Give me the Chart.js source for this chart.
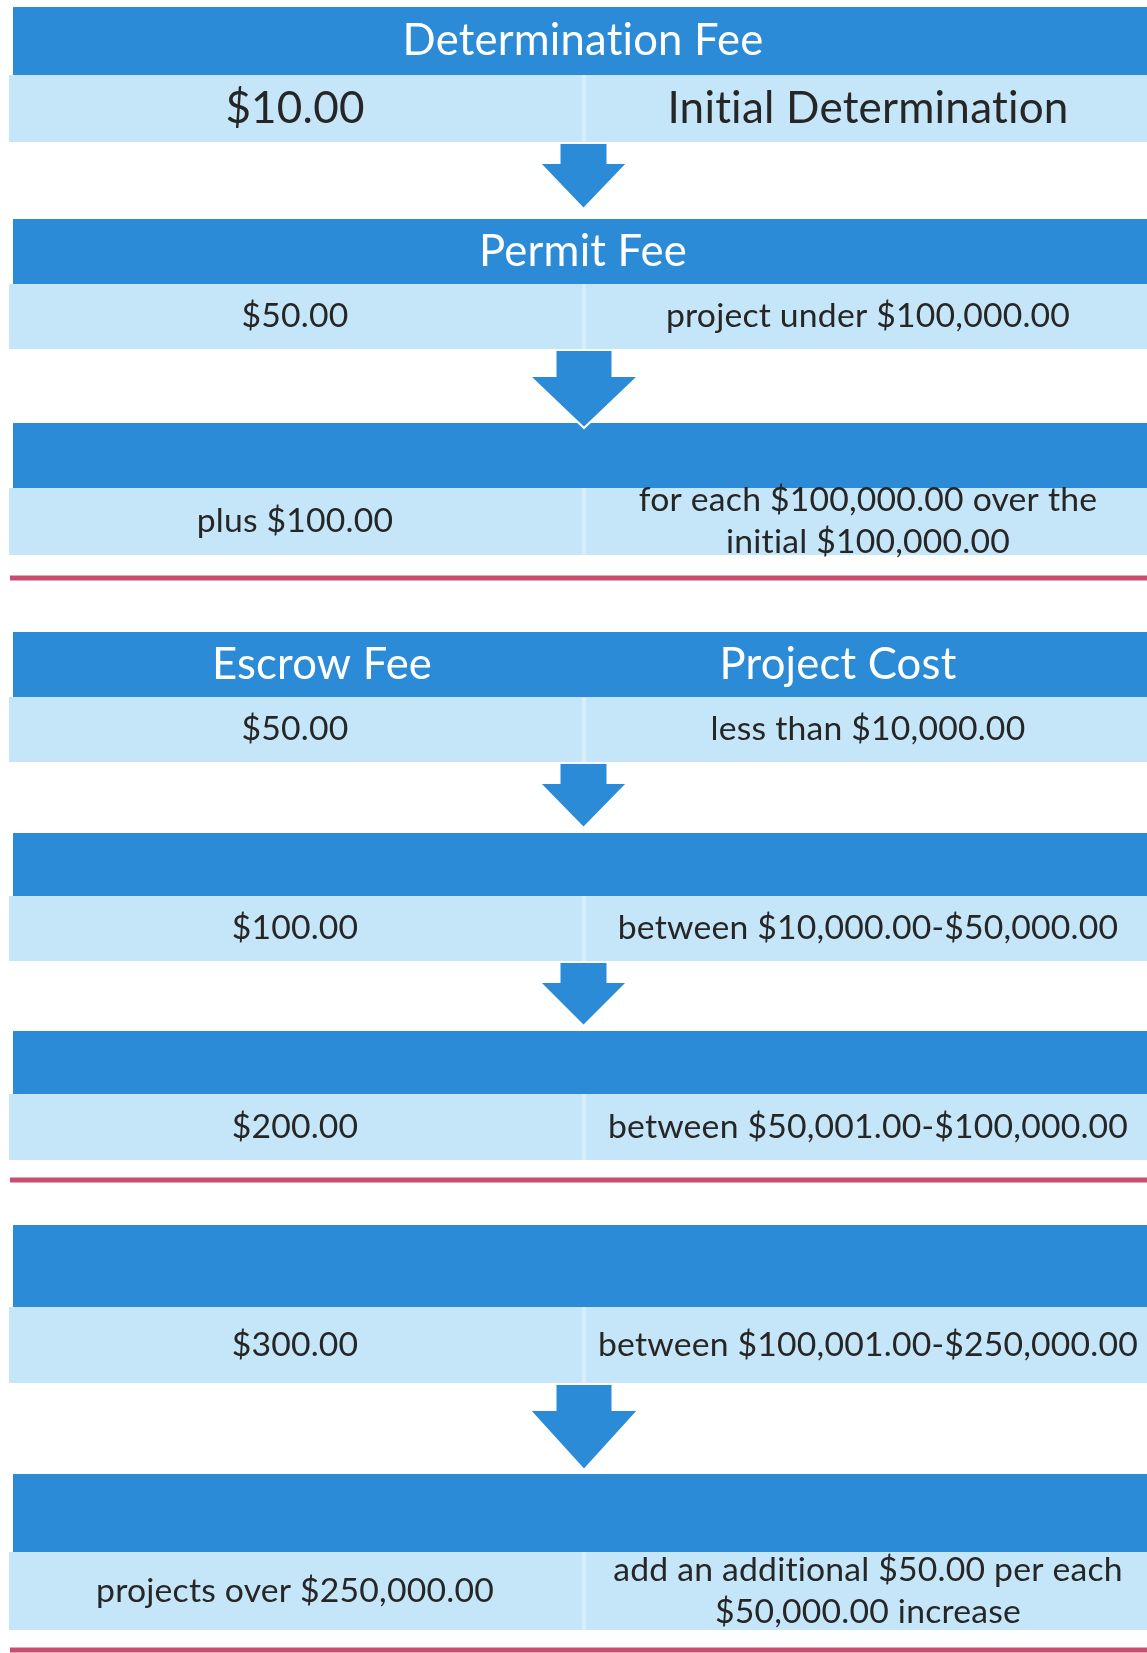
<!DOCTYPE html>
<html>
<head>
<meta charset="utf-8">
<script src="https://cdn.jsdelivr.net/npm/chart.js@4.4.1/dist/chart.umd.min.js"></script>
<style>
  html, body { margin: 0; padding: 0; background: #fff; overflow: hidden; }
  #wrap { width: 1147px; height: 1653px; }
</style>
</head>
<body>
<div id="wrap"><canvas id="fees"></canvas></div>
<script>
// content of the fee schedule, one entry per row
const headerTitles = ['Determination Fee', 'Permit Fee', '', 'Escrow Fee', '', '', '', ''];
const headerTitlesRight = ['', '', '', 'Project Cost', '', '', '', ''];
const fees = ['$10.00', '$50.00', 'plus $100.00', '$50.00', '$100.00', '$200.00', '$300.00', 'projects over $250,000.00'];
const conditions = [
  ['Initial Determination'],
  ['project under $100,000.00'],
  ['for each $100,000.00 over the', 'initial $100,000.00'],
  ['less than $10,000.00'],
  ['between $10,000.00-$50,000.00'],
  ['between $50,001.00-$100,000.00'],
  ['between $100,001.00-$250,000.00'],
  ['add an additional $50.00 per each', '$50,000.00 increase']
];
const groups = [0, 0, 0, 1, 1, 1, 2, 2];

// layout in page units (y axis runs 0..1653 top to bottom)
const rowTop = [7, 219, 423, 632, 833, 1031, 1225, 1474];
const rowSplit = [75, 284, 488, 697, 896, 1094, 1307, 1552];
const rowBottom = [142, 349, 555, 762, 961, 1160, 1383, 1630];
const ruleY = [578, 1180, 1650];
const arrowTip = [209, 428, 828, 1026, 1470];

const DARK = '#2b8bd6';
const LIGHT = '#c5e6f8';
const RULE = '#c94d70';
const TEXT = '#262626';
const FONT = 'Lato, "Open Sans", sans-serif';

function fitSize(ctx, text, width) {
  ctx.font = '100px ' + FONT;
  return 100 * width / ctx.measureText(text).width;
}

const feeTable = {
  id: 'feeTable',
  afterDraw(chart) {
    const { ctx, scales: { x, y } } = chart;
    const X = v => x.getPixelForValue(v);
    const Y = v => y.getPixelForValue(v);
    const right = X(1147);

    ctx.save();
    ctx.fillStyle = '#fff';
    ctx.fillRect(0, 0, chart.width, chart.height);

    // bands
    rowTop.forEach((top, i) => {
      ctx.fillStyle = LIGHT;
      ctx.fillRect(X(9), Y(rowSplit[i]), right - X(9), Y(rowBottom[i]) - Y(rowSplit[i]));
      ctx.fillStyle = 'rgba(255,255,255,0.3)';
      ctx.fillRect(X(582), Y(rowSplit[i]), X(586) - X(582), Y(rowBottom[i]) - Y(rowSplit[i]));
      ctx.fillStyle = DARK;
      ctx.fillRect(X(13), Y(top), right - X(13), Y(rowSplit[i]) - Y(top));
    });

    // separating rules
    ctx.fillStyle = RULE;
    ruleY.forEach(v => ctx.fillRect(X(10), Y(v - 2.5), right - X(10), Y(v + 2.5) - Y(v - 2.5)));

    // arrows between rows of the same group
    let a = 0;
    for (let i = 0; i < rowTop.length - 1; i++) {
      if (groups[i] !== groups[i + 1]) continue;
      const top = rowBottom[i] + 1;
      const tip = arrowTip[a++];
      const big = tip - top > 75;
      const shaft = big ? 28.5 : 24;
      const head = big ? 54.5 : 44;
      const neck = top + (big ? 26 : 20);
      const cx = big ? 584 : 583.5;
      ctx.beginPath();
      ctx.moveTo(X(cx - shaft), Y(top));
      ctx.lineTo(X(cx + shaft), Y(top));
      ctx.lineTo(X(cx + shaft), Y(neck));
      ctx.lineTo(X(cx + head), Y(neck));
      ctx.lineTo(X(cx), Y(tip));
      ctx.lineTo(X(cx - head), Y(neck));
      ctx.lineTo(X(cx - shaft), Y(neck));
      ctx.closePath();
      ctx.fillStyle = DARK;
      ctx.fill();
      ctx.strokeStyle = '#fff';
      ctx.lineWidth = 2;
      ctx.stroke();
    }

    // texts (small letter spacing keeps Lato from joining "ti")
    ctx.letterSpacing = '0.2px';
    const headSize = fitSize(ctx, 'Determination Fee', 359);
    const bodySize = fitSize(ctx, 'project under $100,000.00', 401);
    const bigSize = fitSize(ctx, 'Initial Determination', 399);
    ctx.textAlign = 'center';
    ctx.textBaseline = 'middle';
    rowTop.forEach((top, i) => {
      const hm = Y((top + rowSplit[i]) / 2);
      ctx.fillStyle = '#fff';
      ctx.font = headSize + 'px ' + FONT;
      if (headerTitlesRight[i]) {
        ctx.fillText(headerTitles[i], X(322), hm);
        ctx.fillText(headerTitlesRight[i], X(838), hm);
      } else if (headerTitles[i]) {
        ctx.fillText(headerTitles[i], X(583), hm);
      }
      const bm = (rowSplit[i] + rowBottom[i]) / 2;
      ctx.fillStyle = TEXT;
      ctx.font = (i === 0 ? bigSize : bodySize) + 'px ' + FONT;
      ctx.fillText(fees[i], X(295), Y(bm));
      const lines = conditions[i];
      lines.forEach((line, k) => {
        const off = (k - (lines.length - 1) / 2) * 42;
        ctx.fillText(line, X(868), Y(bm + off));
      });
    });
    ctx.restore();
  }
};

document.fonts.load('32px Lato').then(() => {
  new Chart(document.getElementById('fees'), {
    type: 'scatter',
    data: { datasets: [] },
    options: {
      responsive: true,
      maintainAspectRatio: false,
      animation: false,
      layout: { padding: 0 },
      plugins: { legend: { display: false }, tooltip: { enabled: false } },
      scales: {
        x: { type: 'linear', min: 0, max: 1147, display: false },
        y: { type: 'linear', min: 0, max: 1653, reverse: true, display: false }
      }
    },
    plugins: [feeTable]
  });
});
</script>
</body>
</html>
